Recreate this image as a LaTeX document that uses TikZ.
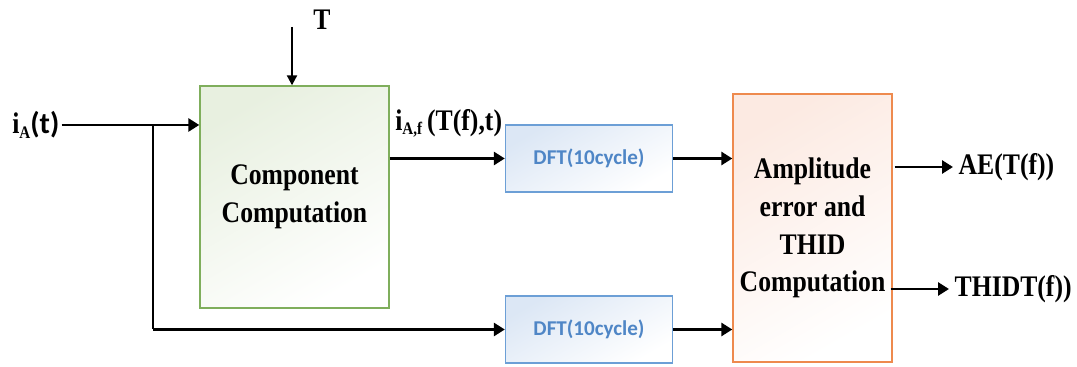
\documentclass[tikz,border=0pt]{standalone}
\usepackage{fontspec}
\setmainfont{Liberation Serif}[FakeStretch=0.86]
\newfontfamily\dftfont{Carlito}
\usetikzlibrary{arrows.meta}
\definecolor{compborder}{HTML}{7FAE5C}
\definecolor{compfill}{HTML}{E8F0E0}
\definecolor{dftborder}{HTML}{6C9FD6}
\definecolor{dftfill}{HTML}{DCE7F5}
\definecolor{dfttext}{HTML}{4F86C6}
\definecolor{ampborder}{HTML}{EE8A4E}
\definecolor{ampfill}{HTML}{FCEAE2}
\tikzset{
  x=0.02cm, y=-0.02cm,
  lbl/.style={font=\fontsize{17}{20}\selectfont\bfseries, inner sep=0pt},
  outlbl/.style={lbl, anchor=west, inner xsep=3pt},
  blockbox/.style={draw, line width=0.8pt, align=center, inner sep=0pt,
    font=\fontsize{17}{21.5}\selectfont\bfseries},
  compbox/.style={blockbox, draw=compborder, top color=compfill, bottom color=white,
    shading angle=30, minimum width=3.78cm, minimum height=4.44cm},
  dftbox/.style={blockbox, draw=dftborder, top color=dftfill, bottom color=white,
    shading angle=30, minimum width=3.34cm, minimum height=1.34cm,
    text=dfttext, font=\dftfont\fontsize{12}{14}\selectfont\bfseries},
  ampbox/.style={blockbox, draw=ampborder, top color=ampfill, bottom color=white,
    shading angle=30, minimum width=3.18cm, minimum height=5.36cm},
  flow/.style={line width=1.7pt, -{Triangle[length=0.22cm, width=0.26cm]}},
  thinflow/.style={line width=1.2pt, -{Triangle[length=0.2cm, width=0.2cm]}},
  wire/.style={line width=1.7pt}
}
\begin{document}
\begin{tikzpicture}
\useasboundingbox (0,0) rectangle (1077,367);

% processing blocks
\node[compbox] (comp) at (294.5,197) {Component\\Computation};
\node[dftbox] (dft1) at (589,158.5) {DFT(10cycle)};
\node[dftbox] (dft2) at (589,329.5) {DFT(10cycle)};
\node[ampbox] (amp) at (812.5,228) {Amplitude\\error and\\THID\\Computation};

% inputs and outputs
\node[lbl, anchor=west] (in) at (12,125) {i\raisebox{-0.35ex}{\fontsize{10}{10}\selectfont A}{\dftfont(t)}};
\node[lbl] (T) at (322,20) {T};
\coordinate (tstart) at (292,27);
\coordinate (j) at (153,125);
\node[lbl, anchor=south west] (iaf) at (395,138) {i\raisebox{-0.35ex}{\fontsize{10}{10}\selectfont A,f}\,(T(f),t)};
\node[outlbl] (ae) at (953,167) {AE(T(f))};
\node[outlbl] (thidt) at (949,289) {THIDT(f))};

% connectors
\draw[thinflow] (tstart) -- (tstart |- comp.north);
\draw[flow] (in.east) ++(2,0) -- (in.east -| comp.west);
\draw[wire] (j) -- (j |- dft2.west);
\draw[flow] (j |- dft2.west) -- (dft2.west);
\draw[flow] (comp.east |- dft1.west) -- (dft1.west);
\draw[flow] (dft1.east) -- (dft1.east -| amp.west);
\draw[flow] (dft2.east) -- (dft2.east -| amp.west);
\draw[flow] (amp.east |- ae.west) ++(2,0) -- (ae.west);
\draw[flow] (amp.east |- thidt.west) ++(-2,0) -- (thidt.west);
\end{tikzpicture}
\end{document}
